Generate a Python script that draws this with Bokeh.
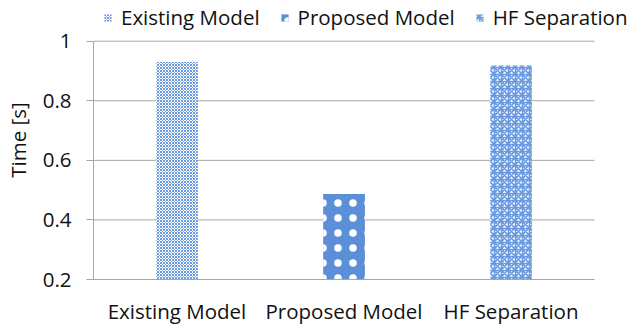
from bokeh.plotting import figure
from bokeh.models import ColumnDataSource, Legend, LegendItem, Range1d, FixedTicker
from bokeh.embed import file_html
from bokeh.resources import INLINE

categories = ["Existing Model", "Proposed Model", "HF Separation"]
times = [0.93, 0.487, 0.918]
y_ticks = [0.2, 0.4, 0.6, 0.8, 1.0]

BLUE = "#5b8fd8"
GRID = "#a6a6a6"
FONT = "Open Sans"
FONT_SIZE = "20.5px"
TEXT = "#111111"

n = len(categories)
x_pos = [i + 0.5 for i in range(n)]

# fill patterns: fine mesh, white dots on blue, tile grid
styles = [
    dict(fill_color="white", hatch_pattern="diagonal_cross", hatch_color="#6b9be2",
         hatch_scale=3, hatch_weight=1),
    dict(fill_color=BLUE, hatch_pattern="dot", hatch_color="white",
         hatch_scale=15, hatch_weight=1.6),
    dict(fill_color="white", hatch_pattern="criss_cross", hatch_color="#6a9ae0",
         hatch_scale=7, hatch_weight=1.6),
]

p = figure(width=637, height=327, title=None,
           x_range=Range1d(0, n * 1.0857), y_range=Range1d(0.2, 1.1366),
           output_backend="svg", toolbar_location=None,
           min_border_left=92, min_border_right=0, min_border_top=0, min_border_bottom=48)
p.outline_line_color = None
p.xgrid.grid_line_color = None
p.ygrid.grid_line_color = None

# horizontal gridlines across the category span only
p.segment(x0=[0] * (len(y_ticks) - 1), x1=[n] * (len(y_ticks) - 1),
          y0=y_ticks[1:], y1=y_ticks[1:], line_color=GRID, line_width=1)

items = []
for x, cat, t, st in zip(x_pos, categories, times, styles):
    src = ColumnDataSource(dict(x=[x], top=[t]))
    r = p.vbar(x="x", top="top", bottom=0, width=0.25, source=src, line_color=None, **st)
    items.append(LegendItem(label=cat, renderers=[r]))

legend = Legend(items=items, orientation="horizontal", location=(10, 248),
                label_text_font=FONT, label_text_font_size=FONT_SIZE, label_text_color=TEXT,
                label_height=20, glyph_width=9, glyph_height=9, spacing=20, label_standoff=9,
                background_fill_alpha=0, border_line_color=None, padding=0, margin=0)
p.add_layout(legend, "center")

p.yaxis.ticker = FixedTicker(ticks=y_ticks)
p.yaxis.bounds = (y_ticks[0], y_ticks[-1])
p.yaxis.major_label_text_font = FONT
p.yaxis.major_label_text_font_size = FONT_SIZE
p.yaxis.major_label_text_color = TEXT
p.yaxis.axis_label = "Time [s]"
p.yaxis.axis_label_text_font = FONT
p.yaxis.axis_label_text_font_size = FONT_SIZE
p.yaxis.axis_label_text_color = TEXT
p.yaxis.axis_label_text_font_style = "normal"
p.yaxis.axis_label_standoff = 8
p.yaxis.axis_line_color = GRID
p.yaxis.major_tick_line_color = GRID
p.yaxis.major_tick_out = 7
p.yaxis.major_tick_in = 0
p.yaxis.minor_tick_line_color = None
p.yaxis.major_label_standoff = 15

p.xaxis.ticker = FixedTicker(ticks=x_pos)
p.xaxis.major_label_overrides = {x: c for x, c in zip(x_pos, categories)}
p.xaxis.bounds = (-0.042, n)
p.xaxis.major_label_text_font = FONT
p.xaxis.major_label_text_font_size = FONT_SIZE
p.xaxis.major_label_text_color = TEXT
p.xaxis.axis_line_color = GRID
p.xaxis.major_tick_line_color = None
p.xaxis.minor_tick_line_color = None
p.xaxis.major_label_standoff = 11

open("out.html", "w").write(file_html(p, INLINE))
